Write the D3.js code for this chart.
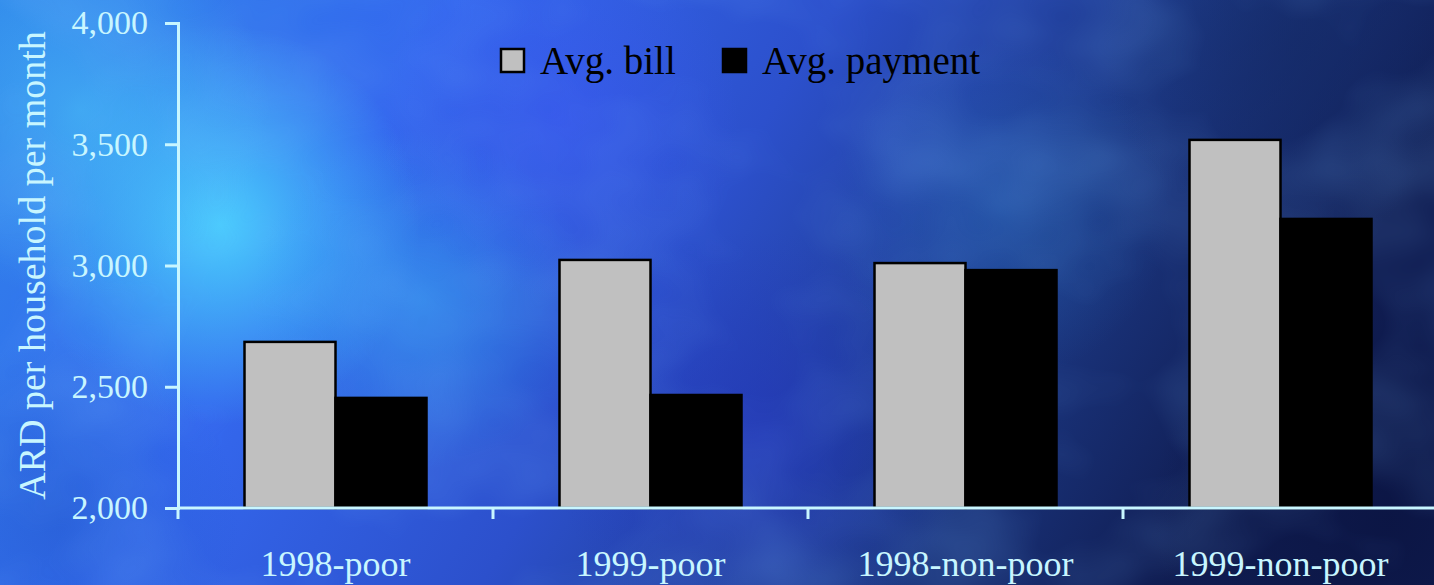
<!DOCTYPE html>
<html>
<head>
<meta charset="utf-8">
<script src="https://cdn.jsdelivr.net/npm/d3@7"></script>
<style>
  html, body { margin: 0; padding: 0; background: #123; }
  svg { display: block; }
</style>
</head>
<body>
<div id="chart"></div>
<script>
// data
const categories = ['1998-poor', '1999-poor', '1998-non-poor', '1999-non-poor'];
const seriesNames = ['Avg. bill', 'Avg. payment'];
const avgBill = [2685, 3023, 3010, 3518];
const avgPayment = [2454, 2466, 2981, 3192];
const yTicks = [2000, 2500, 3000, 3500, 4000];

const W = 1434, H = 585;
const margin = { top: 23, right: -4, bottom: 77, left: 178 };
const axisCol = '#c8f6ff';
const font = '"Liberation Serif", "Times New Roman", serif';
const groupW = 182;

const svg = d3.select('#chart')
  .append('svg')
  .attr('width', W)
  .attr('height', H);

// ---- background: blue cloudy slide backdrop
const defs = svg.append('defs');
const lg = defs.append('linearGradient').attr('id', 'bg').attr('x1', 0).attr('x2', 1).attr('y1', 0).attr('y2', 0.25);
[['0', '#2f84ea'], ['0.3', '#3468ee'], ['0.55', '#2c50cc'], ['0.78', '#1d3a88'], ['1', '#101d52']]
  .forEach(([o, c]) => lg.append('stop').attr('offset', o).attr('stop-color', c));

const blobs = [
  { id: 'b1', cx: 220, cy: 225, r: 200, c: '#4cd6ff', o: 0.9 },
  { id: 'b2', cx: 80, cy: 110, r: 190, c: '#48bcf6', o: 0.65 },
  { id: 'b3', cx: 420, cy: 300, r: 170, c: '#2eaaf2', o: 0.5 },
  { id: 'b4', cx: 760, cy: 440, r: 210, c: '#2434c0', o: 0.6 },
  { id: 'b5', cx: 560, cy: 120, r: 180, c: '#3d58f4', o: 0.55 },
  { id: 'b6', cx: 1000, cy: 210, r: 170, c: '#2a70c0', o: 0.4 },
  { id: 'b7', cx: 1390, cy: 520, r: 240, c: '#0a1340', o: 0.75 },
  { id: 'b8', cx: 60, cy: 520, r: 180, c: '#2258c8', o: 0.5 },
  { id: 'b9', cx: 1300, cy: 40, r: 200, c: '#142a66', o: 0.6 },
];
blobs.forEach((b) => {
  const rg = defs.append('radialGradient').attr('id', b.id)
    .attr('gradientUnits', 'userSpaceOnUse')
    .attr('cx', b.cx).attr('cy', b.cy).attr('r', b.r);
  rg.append('stop').attr('offset', 0).attr('stop-color', b.c).attr('stop-opacity', b.o);
  rg.append('stop').attr('offset', 1).attr('stop-color', b.c).attr('stop-opacity', 0);
});

const turb = defs.append('filter').attr('id', 'clouds').attr('x', 0).attr('y', 0).attr('width', 1).attr('height', 1);
turb.append('feTurbulence').attr('type', 'fractalNoise').attr('baseFrequency', '0.006 0.008').attr('numOctaves', 3).attr('seed', 7);
turb.append('feColorMatrix').attr('type', 'matrix')
  .attr('values', '0 0 0 0 0.2  0 0 0 0 0.5  0 0 0 0 1  0 0 0 1.4 -0.55');

svg.append('rect').attr('width', W).attr('height', H).attr('fill', 'url(#bg)');
blobs.forEach((b) => svg.append('rect').attr('width', W).attr('height', H).attr('fill', `url(#${b.id})`));
svg.append('rect').attr('width', W).attr('height', H).attr('filter', 'url(#clouds)').attr('opacity', 0.28);

// ---- scales
const x0 = d3.scaleBand()
  .domain(categories)
  .range([margin.left, W - margin.right]);

const x1 = d3.scaleBand()
  .domain(seriesNames)
  .range([0, groupW])
  .padding(0);

const y = d3.scaleLinear()
  .domain([2000, 4000])
  .range([H - margin.bottom, margin.top]);

// ---- bars
const rows = categories.map((c, i) => ({ cat: c, vals: [avgBill[i], avgPayment[i]] }));
const groupOffset = (x0.bandwidth() - groupW) / 2;

const g = svg.append('g');
rows.forEach((r) => {
  r.vals.forEach((v, j) => {
    g.append('rect')
      .attr('x', x0(r.cat) + groupOffset + x1(seriesNames[j]))
      .attr('y', y(v))
      .attr('width', x1.bandwidth())
      .attr('height', y(2000) - y(v))
      .attr('fill', j === 0 ? '#c0c0c0' : '#000')
      .attr('stroke', '#000')
      .attr('stroke-width', 2.5);
  });
});

// ---- axes
const yAxis = svg.append('g')
  .attr('transform', `translate(${margin.left},0)`)
  .call(d3.axisLeft(y).tickValues(yTicks).tickSize(13).tickPadding(17)
    .tickFormat(d3.format(',')));

const xAxis = svg.append('g')
  .attr('transform', `translate(0,${y(2000)})`)
  .call(d3.axisBottom(x0).tickSize(0).tickPadding(42));

// boundary ticks between categories
xAxis.selectAll('.bound')
  .data(categories)
  .enter()
  .append('line')
  .attr('x1', (d) => x0(d)).attr('x2', (d) => x0(d))
  .attr('y1', 0).attr('y2', 11)
  .attr('stroke', axisCol).attr('stroke-width', 3);

[yAxis, xAxis].forEach((a) => {
  a.select('.domain').attr('stroke', axisCol).attr('stroke-width', 3);
  a.selectAll('.tick line').attr('stroke', axisCol).attr('stroke-width', 3);
  a.selectAll('.tick text')
    .attr('fill', axisCol)
    .style('font-family', font);
});
yAxis.selectAll('.tick text').style('font-size', '34px');
xAxis.selectAll('.tick text').style('font-size', '36px');
xAxis.select('.domain').attr('d', `M${margin.left},0H${W}`);

// axis title
svg.append('text')
  .attr('transform', `translate(45,${(y(2000) + y(4000)) / 2}) rotate(-90)`)
  .attr('text-anchor', 'middle')
  .attr('fill', axisCol)
  .style('font-family', font)
  .style('font-size', '38px')
  .text('ARD per household per month');

// ---- legend
const legend = svg.append('g');
const legendX = [501, 723];
seriesNames.forEach((s, j) => {
  legend.append('rect')
    .attr('x', legendX[j]).attr('y', 49)
    .attr('width', 23).attr('height', 23)
    .attr('fill', j === 0 ? '#c0c0c0' : '#000')
    .attr('stroke', '#000').attr('stroke-width', 2.5);
  legend.append('text')
    .attr('x', legendX[j] + 39).attr('y', 74)
    .attr('fill', '#000')
    .style('font-family', font)
    .style('font-size', '39px')
    .text(s);
});
</script>
</body>
</html>
